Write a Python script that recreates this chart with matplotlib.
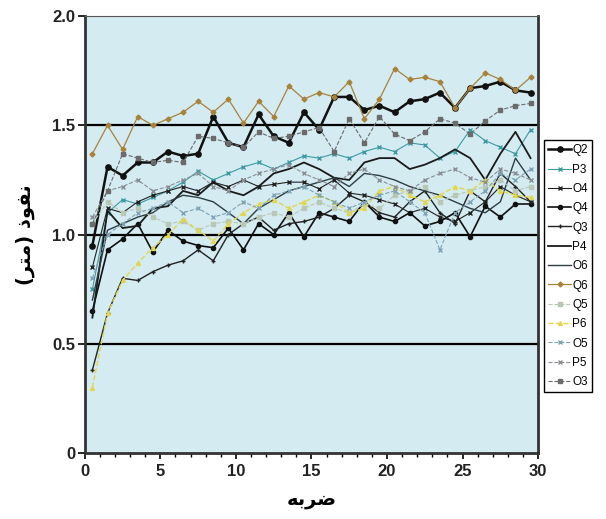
import numpy as np
import matplotlib
matplotlib.use('Agg')
import matplotlib.pyplot as plt

# strike number (x) and penetration in metres (y)
x = np.arange(30) + 0.5

Q2 = [0.95, 1.31, 1.27, 1.33, 1.33, 1.38, 1.36, 1.37, 1.54, 1.42, 1.40, 1.55, 1.45, 1.42, 1.56,
      1.48, 1.63, 1.63, 1.57, 1.59, 1.56, 1.61, 1.62, 1.65, 1.58, 1.67, 1.68, 1.70, 1.66, 1.65]
P3 = [0.75, 1.10, 1.16, 1.14, 1.17, 1.20, 1.24, 1.29, 1.25, 1.28, 1.31, 1.33, 1.30, 1.33, 1.36,
      1.35, 1.37, 1.35, 1.38, 1.40, 1.38, 1.42, 1.41, 1.35, 1.38, 1.48, 1.43, 1.40, 1.37, 1.48]
O4 = [0.85, 1.12, 1.10, 1.15, 1.18, 1.20, 1.22, 1.20, 1.24, 1.22, 1.25, 1.22, 1.23, 1.24, 1.24,
      1.21, 1.25, 1.19, 1.18, 1.16, 1.14, 1.10, 1.12, 1.08, 1.06, 1.10, 1.15, 1.22, 1.18, 1.15]
Q4 = [0.65, 0.93, 0.98, 1.05, 0.92, 1.02, 0.97, 0.95, 0.94, 1.03, 0.93, 1.05, 1.00, 1.10, 0.99,
      1.10, 1.08, 1.06, 1.15, 1.08, 1.06, 1.10, 1.04, 1.06, 1.10, 0.99, 1.13, 1.08, 1.14, 1.14]
Q3 = [0.38, 0.64, 0.80, 0.79, 0.83, 0.86, 0.88, 0.93, 0.88, 1.00, 1.05, 1.08, 1.02, 1.05, 1.06,
      1.08, 1.12, 1.18, 1.15, 1.10, 1.08, 1.15, 1.20, 1.10, 1.05, 1.20, 1.15, 1.28, 1.22, 1.15]
P4 = [0.62, 1.11, 1.03, 1.04, 1.12, 1.13, 1.20, 1.18, 1.24, 1.20, 1.18, 1.22, 1.28, 1.30, 1.33,
      1.30, 1.26, 1.25, 1.33, 1.35, 1.35, 1.30, 1.32, 1.35, 1.39, 1.35, 1.25, 1.37, 1.47, 1.35]
O6 = [0.70, 1.02, 1.05, 1.08, 1.10, 1.15, 1.18, 1.17, 1.15, 1.10, 1.05, 1.12, 1.16, 1.20, 1.22,
      1.24, 1.26, 1.22, 1.28, 1.27, 1.25, 1.22, 1.20, 1.18, 1.15, 1.12, 1.10, 1.15, 1.35, 1.25]
Q6 = [1.37, 1.50, 1.39, 1.54, 1.50, 1.53, 1.56, 1.61, 1.56, 1.62, 1.51, 1.61, 1.54, 1.68, 1.62,
      1.65, 1.63, 1.70, 1.53, 1.62, 1.76, 1.71, 1.72, 1.70, 1.58, 1.67, 1.74, 1.71, 1.66, 1.72]
Q5 = [1.05, 1.15, 1.10, 1.12, 1.08, 1.05, 1.06, 1.02, 1.05, 1.06, 1.05, 1.08, 1.10, 1.08, 1.12,
      1.15, 1.12, 1.10, 1.14, 1.12, 1.18, 1.20, 1.22, 1.15, 1.18, 1.20, 1.22, 1.25, 1.20, 1.22]
P6 = [0.30, 0.64, 0.79, 0.87, 0.94, 1.00, 1.07, 1.02, 0.97, 1.05, 1.10, 1.14, 1.16, 1.12, 1.15,
      1.18, 1.15, 1.10, 1.12, 1.20, 1.22, 1.18, 1.15, 1.18, 1.22, 1.20, 1.25, 1.20, 1.18, 1.17]
O5 = [0.80, 1.00, 1.05, 1.10, 1.12, 1.15, 1.10, 1.12, 1.08, 1.10, 1.15, 1.12, 1.18, 1.20, 1.22,
      1.18, 1.15, 1.12, 1.15, 1.18, 1.20, 1.15, 1.10, 0.93, 1.10, 1.15, 1.20, 1.28, 1.25, 1.30]
P5 = [1.08, 1.20, 1.22, 1.25, 1.20, 1.22, 1.25, 1.28, 1.22, 1.20, 1.25, 1.28, 1.30, 1.32, 1.28,
      1.25, 1.22, 1.28, 1.30, 1.25, 1.22, 1.20, 1.25, 1.28, 1.30, 1.26, 1.24, 1.30, 1.28, 1.25]
O3 = [1.05, 1.20, 1.37, 1.35, 1.33, 1.34, 1.33, 1.45, 1.44, 1.42, 1.40, 1.47, 1.44, 1.45, 1.47,
      1.49, 1.38, 1.53, 1.42, 1.54, 1.46, 1.43, 1.47, 1.53, 1.51, 1.46, 1.52, 1.57, 1.59, 1.60]

# name, values, colour, marker, linestyle, linewidth, markersize
series = [
    ('Q2', Q2, '#111111', 'o', '-', 1.8, 3.8),
    ('P3', P3, '#3d9aa3', 'x', '-', 0.8, 3.0),
    ('O4', O4, '#222222', 'x', '-', 0.8, 3.0),
    ('Q4', Q4, '#111111', 'o', '-', 1.2, 3.0),
    ('Q3', Q3, '#222222', '+', '-', 1.0, 3.5),
    ('P4', P4, '#1a1a1a', '', '-', 1.3, 0),
    ('O6', O6, '#2c3e44', '', '-', 1.0, 0),
    ('Q6', Q6, '#a9823a', 'D', '-', 0.9, 2.5),
    ('Q5', Q5, '#b9c8b5', 's', '--', 0.8, 2.5),
    ('P6', P6, '#e3d64c', '^', '--', 1.0, 2.8),
    ('O5', O5, '#7fa4b4', 'x', '--', 0.8, 2.5),
    ('P5', P5, '#8a8f96', 'x', '--', 0.8, 2.5),
    ('O3', O3, '#6b6b6b', 's', '--', 0.8, 2.5),
]

# Arabic labels, pre-shaped in visual order
xlabel = '\uFEEA\uFE91\uFEAE\uFEBF'  # ضربه
ylabel = '(\uFEAE\uFE98\uFEE3) \uFEAB\uFEEE\uFED4\uFEE7'  # نفوذ (متر)

fig = plt.figure(figsize=(6.06, 5.19), dpi=100)
ax = fig.add_axes([0.140, 0.127, 0.748, 0.842])
ax.set_facecolor('#d4ebf1')

for yv in [0.5, 1.0, 1.5]:
    ax.axhline(yv, color='black', lw=1.6, zorder=1)

for name, vals, col, mk, ls, lw, ms in series:
    ax.plot(x, vals, color=col, marker=mk if mk else None, markersize=ms,
            linestyle=ls, lw=lw, label=name, zorder=3)

ax.set_xlim(0, 30)
ax.set_ylim(0, 2.0)
ax.set_xticks([0, 5, 10, 15, 20, 25, 30])
ax.set_xticks(np.arange(0, 31, 1), minor=True)
ax.set_yticks([0, 0.5, 1.0, 1.5, 2.0])
ax.set_yticklabels(['0', '0.5', '1.0', '1.5', '2.0'])

for lab in ax.get_xticklabels() + ax.get_yticklabels():
    lab.set_fontfamily(['Liberation Sans', 'DejaVu Sans'])
    lab.set_fontweight('bold')
    lab.set_fontsize(12)
    lab.set_color('#222222')

ax.tick_params(axis='x', which='major', length=4, width=1.2, pad=4)
ax.tick_params(axis='x', which='minor', length=3, width=1)
ax.tick_params(axis='y', which='major', length=5, width=1.2, pad=2)

for side in ['left', 'bottom', 'right']:
    ax.spines[side].set_linewidth(2)
    ax.spines[side].set_color('#333333')
ax.spines['top'].set_linewidth(0.8)
ax.spines['top'].set_color('#555555')

ax.set_xlabel(xlabel, fontfamily='DejaVu Sans', fontsize=14, fontweight='bold', labelpad=8)
ax.set_ylabel(ylabel, fontfamily='DejaVu Sans', fontsize=14, fontweight='bold', labelpad=12)

leg = ax.legend(loc='upper left', bbox_to_anchor=(1.012, 0.716), frameon=True, fancybox=False,
                framealpha=1, edgecolor='black', fontsize=8.5, handlelength=2.0,
                handletextpad=0.1, labelspacing=0.62, borderpad=0.35, borderaxespad=0)
leg.get_frame().set_linewidth(1.0)
for t in leg.get_texts():
    t.set_fontfamily(['Liberation Sans', 'DejaVu Sans'])

fig.savefig('out.png', dpi=100)
